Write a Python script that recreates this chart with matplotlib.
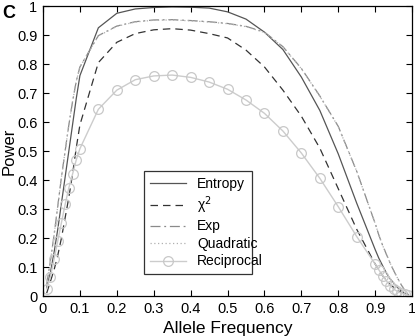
import matplotlib
matplotlib.use("Agg")
import matplotlib.pyplot as plt

plt.rcParams['font.family'] = ['Liberation Sans', 'DejaVu Sans']

freq = [0.01, 0.02, 0.03, 0.04, 0.05, 0.06, 0.07, 0.08, 0.09, 0.10,
        0.15, 0.20, 0.25, 0.30, 0.35, 0.40, 0.45, 0.50, 0.55, 0.60,
        0.65, 0.70, 0.75, 0.80, 0.85, 0.90, 0.91, 0.92, 0.93, 0.94,
        0.95, 0.96, 0.97, 0.98, 0.99]

entropy = [0.03, 0.08, 0.15, 0.23, 0.32, 0.41, 0.50, 0.59, 0.68, 0.76,
           0.925, 0.975, 0.99, 0.995, 0.997, 0.996, 0.993, 0.98, 0.955, 0.91,
           0.85, 0.755, 0.64, 0.49, 0.32, 0.16, 0.13, 0.105, 0.08, 0.06,
           0.045, 0.03, 0.018, 0.01, 0.005]

chi2 = [0.01, 0.05, 0.09, 0.14, 0.20, 0.27, 0.34, 0.42, 0.51, 0.59,
        0.805, 0.875, 0.905, 0.918, 0.922, 0.917, 0.905, 0.89, 0.848, 0.79,
        0.71, 0.62, 0.51, 0.37, 0.23, 0.11, 0.09, 0.07, 0.055, 0.04,
        0.03, 0.02, 0.013, 0.007, 0.003]

exp_ = [0.04, 0.12, 0.21, 0.31, 0.41, 0.50, 0.59, 0.67, 0.74, 0.79,
        0.898, 0.931, 0.946, 0.952, 0.953, 0.95, 0.946, 0.94, 0.93, 0.91,
        0.86, 0.785, 0.69, 0.585, 0.43, 0.25, 0.21, 0.175, 0.145, 0.115,
        0.088, 0.063, 0.04, 0.02, 0.008]

quadratic = [0.04, 0.12, 0.21, 0.31, 0.41, 0.50, 0.59, 0.67, 0.74, 0.79,
             0.897, 0.930, 0.945, 0.951, 0.952, 0.949, 0.945, 0.939, 0.929, 0.909,
             0.859, 0.784, 0.689, 0.584, 0.43, 0.25, 0.21, 0.175, 0.145, 0.115,
             0.088, 0.063, 0.04, 0.02, 0.008]

reciprocal = [0.025, 0.066, 0.127, 0.19, 0.253, 0.316, 0.373, 0.42, 0.469, 0.508,
              0.644, 0.71, 0.746, 0.759, 0.762, 0.754, 0.738, 0.713, 0.676, 0.63,
              0.569, 0.493, 0.406, 0.308, 0.205, 0.11, 0.09, 0.07, 0.053, 0.036,
              0.024, 0.016, 0.01, 0.006, 0.003]

xticks = [0, 0.1, 0.2, 0.3, 0.4, 0.5, 0.6, 0.7, 0.8, 0.9, 1]
xticklabels = ['0', '0.1', '0.2', '0.3', '0.4', '0.5', '0.6', '0.7', '0.8', '0.9', '1']
yticks = [0, 0.1, 0.2, 0.3, 0.4, 0.5, 0.6, 0.7, 0.8, 0.9, 1]
yticklabels = ['0', '0.1', '0.2', '0.3', '0.4', '0.5', '0.6', '0.7', '0.8', '0.9', '1']

fig = plt.figure(figsize=(4.15, 3.36), dpi=100)
ax = fig.add_axes([0.1036, 0.119, 0.8894, 0.863])

ax.plot(freq, entropy, color='#555555', linestyle='-', linewidth=0.9, label='Entropy')
ax.plot(freq, chi2, color='#333333', linestyle=(0, (6, 4)), linewidth=0.9, label='χ$^{2}$')
ax.plot(freq, exp_, color='#8a8a8a', linestyle=(0, (8, 3, 1.5, 3)), linewidth=0.9, label='Exp')
ax.plot(freq, quadratic, color='#b0b0b0', linestyle=(0, (1, 2)), linewidth=0.9, label='Quadratic')
ax.plot(freq, reciprocal, color='#cccccc', linestyle='-', linewidth=1.0, marker='o',
        markersize=7, markerfacecolor='none', markeredgecolor='#c8c8c8', markeredgewidth=0.9,
        label='Reciprocal')

ax.set_xlim(0, 1)
ax.set_ylim(0, 1)
ax.set_xticks(xticks)
ax.set_xticklabels(xticklabels)
ax.set_yticks(yticks)
ax.set_yticklabels(yticklabels)
ax.tick_params(direction='in', top=True, right=True, length=4, width=0.8, labelsize=10.5, pad=4)
for s in ax.spines.values():
    s.set_linewidth(0.9)
    s.set_color('black')

ax.set_xlabel('Allele Frequency', fontsize=12.5, labelpad=4)
ax.set_ylabel('Power', fontsize=12)
ax.yaxis.set_label_coords(-0.072, 0.5)

leg = ax.legend(loc='lower left', bbox_to_anchor=(0.274, 0.076, 0.292, 0.321), mode='expand',
                fontsize=10, frameon=True, fancybox=False, edgecolor='black',
                handlelength=2.6, borderpad=0.4, labelspacing=0.25, handletextpad=0.8,
                borderaxespad=0)
leg.get_frame().set_linewidth(0.9)

fig.text(0.005, 0.985, 'C', fontsize=13, fontweight='bold', va='top', ha='left')

fig.savefig('out.png', dpi=100)
